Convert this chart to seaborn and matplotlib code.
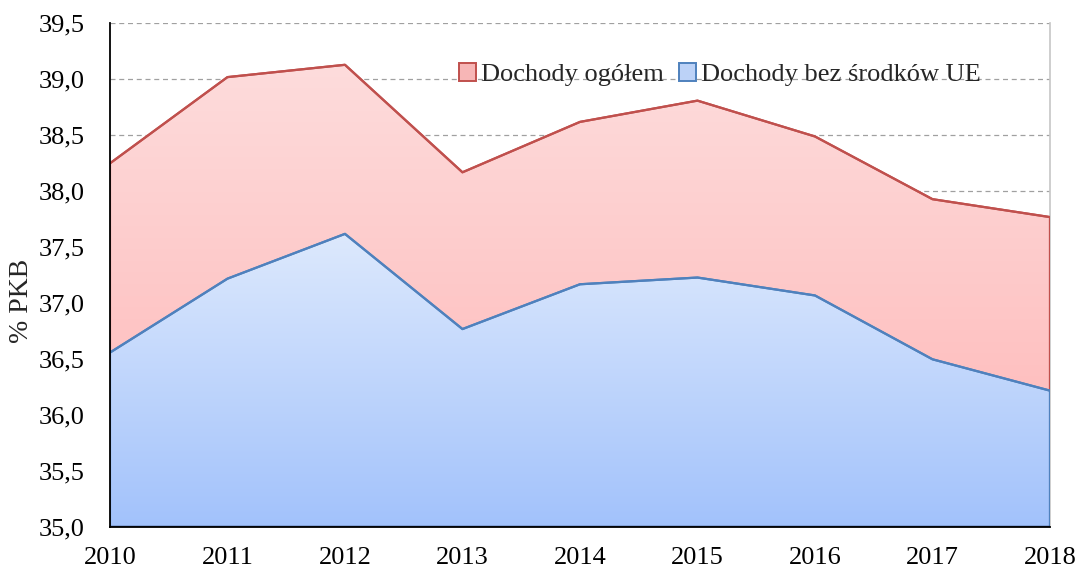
import matplotlib
matplotlib.use('Agg')
import matplotlib.pyplot as plt
import numpy as np
import pandas as pd
import seaborn as sns
from matplotlib.colors import LinearSegmentedColormap
from matplotlib.patches import Patch
from matplotlib.ticker import FuncFormatter, MultipleLocator

years = [2010, 2011, 2012, 2013, 2014, 2015, 2016, 2017, 2018]
dochody_ogolem = [38.25, 39.02, 39.13, 38.17, 38.62, 38.81, 38.49, 37.93, 37.77]
dochody_bez_ue = [36.56, 37.22, 37.62, 36.77, 37.17, 37.23, 37.07, 36.50, 36.22]
series_names = ['Dochody ogółem', 'Dochody bez środków UE']

df = pd.DataFrame({'rok': years, series_names[0]: dochody_ogolem, series_names[1]: dochody_bez_ue})

sns.set_theme(style='white')
plt.rcParams['font.family'] = ['Liberation Serif', 'DejaVu Serif']

red_line, blue_line = '#c0504d', '#4f81bd'
red_grad = ['#fddcdc', '#ffb4b4']
blue_grad = ['#dde9fd', '#a2c2fb']

fig = plt.figure(figsize=(10.78, 5.7), dpi=100)
ax = fig.add_axes([0.102, 0.075, 0.872, 0.884])

ymin, ymax = 35.0, 39.5


def gradient_area(ax, x, y, colors, edge, z):
    poly = ax.fill_between(x, ymin, y, facecolor='none', edgecolor=edge,
                           linewidth=1.6, zorder=z + 0.5)
    cmap = LinearSegmentedColormap.from_list('g', colors[::-1])
    grad = np.linspace(0, 1, 256).reshape(-1, 1)
    im = ax.imshow(grad, cmap=cmap, aspect='auto', origin='lower',
                   extent=[min(x), max(x), ymin, max(y)], zorder=z)
    im.set_clip_path(poly.get_paths()[0], transform=ax.transData)


gradient_area(ax, df['rok'], df[series_names[0]], red_grad, red_line, 3)
gradient_area(ax, df['rok'], df[series_names[1]], blue_grad, blue_line, 4)

sns.lineplot(data=df, x='rok', y=series_names[0], color=red_line, linewidth=1.6, ax=ax, zorder=3.6)
sns.lineplot(data=df, x='rok', y=series_names[1], color=blue_line, linewidth=1.6, ax=ax, zorder=4.6)
ax.axhline(ymin, color='#1f3a6b', linewidth=2.5, zorder=5)

ax.set_xlim(2010, 2018)
ax.set_ylim(ymin, ymax)
ax.set_xticks(years)
ax.yaxis.set_major_locator(MultipleLocator(0.5))
ax.yaxis.set_major_formatter(FuncFormatter(lambda v, p: f'{v:.1f}'.replace('.', ',')))

ax.grid(axis='y', color='#a0a0a0', linestyle=(0, (4, 3)), linewidth=0.9)
ax.grid(axis='x', visible=False)
ax.set_axisbelow(True)

ax.spines['top'].set_visible(False)
ax.spines['right'].set_color('#c8c8c8')
for s in ['left', 'bottom']:
    ax.spines[s].set_color('black')
    ax.spines[s].set_linewidth(1.3)
    ax.spines[s].set_zorder(6)

ax.tick_params(axis='both', labelsize=19, colors='black')
ax.tick_params(axis='y', length=9, width=1, color='#404040', pad=9)
ax.tick_params(axis='x', length=6, width=1, color='#404040', pad=8)

ax.set_xlabel('')
ax.set_ylabel('% PKB', fontsize=20)
ax.yaxis.set_label_coords(-0.081, 0.45)

handles = [Patch(facecolor='#f7b6b6', edgecolor=red_line, linewidth=1.4),
           Patch(facecolor='#bcd2f7', edgecolor=blue_line, linewidth=1.4)]
leg = ax.legend(handles, series_names, loc='center left', bbox_to_anchor=(0.36, 0.898),
                ncol=2, frameon=False, fontsize=19, handlelength=0.65, handleheight=0.65,
                handletextpad=0.2, columnspacing=0.55, borderaxespad=0)
leg.set_zorder(10)

fig.savefig('out.png', dpi=100)
